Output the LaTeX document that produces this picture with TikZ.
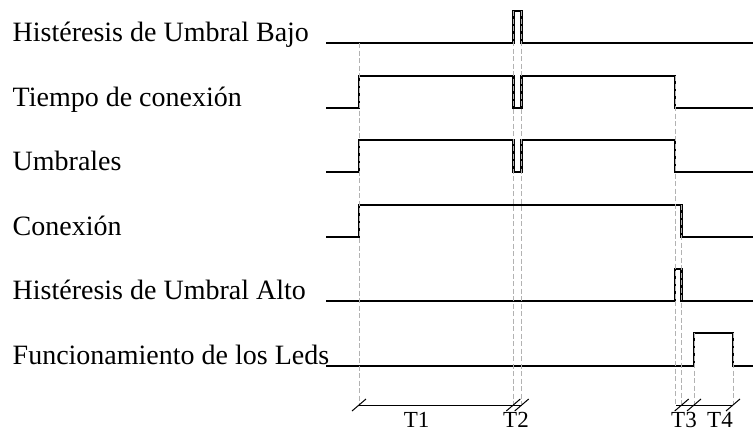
\documentclass[tikz,border=0pt]{standalone}
\usepackage{fontspec}
\setmainfont{Liberation Serif}
\begin{document}
\begin{tikzpicture}[x=1pt,y=-1pt,
  sig/.style={line width=2.8pt,line join=miter,black},
  guide/.style={gray!60,line width=1pt,dash pattern=on 5pt off 2.5pt},
  dim/.style={black,line width=1pt},
  tick/.style={black,line width=1pt},
  lbl/.style={anchor=base west,inner sep=0pt,font=\fontsize{28}{31}\selectfont},
  tlbl/.style={anchor=base,inner sep=0pt,font=\fontsize{23}{25}\selectfont}]
\useasboundingbox (0,0) rectangle (753,434);
% labels
\node[lbl] (l1) at (12.5,41.7) {Histéresis de Umbral Bajo};
\node[lbl] (l2) at (12.5,106.7) {Tiempo de conexión};
\node[lbl] (l3) at (12.5,170.7) {Umbrales};
\node[lbl] (l4) at (12.5,235.2) {Conexión};
\node[lbl] (l5) at (12.5,299.7) {Histéresis de Umbral Alto};
\node[lbl] (l6) at (12.5,364.5) {Funcionamiento de los Leds};
% signals
\draw[sig] (326,43) -- (513.3,43) -- (513.3,11) -- (521.7,11) -- (521.7,43) -- (753,43);
\draw[sig] (326,108) -- (359,108) -- (359,76) -- (513.3,76) -- (513.3,108) -- (521.7,108) -- (521.7,76) -- (675,76) -- (675,108) -- (753,108);
\draw[sig] (326,172) -- (359,172) -- (359,140) -- (513.3,140) -- (513.3,172) -- (521.7,172) -- (521.7,140) -- (675,140) -- (675,172) -- (753,172);
\draw[sig] (326,237) -- (359,237) -- (359,205) -- (681.7,205) -- (681.7,237) -- (753,237);
\draw[sig] (326,301) -- (675,301) -- (675,269) -- (681.7,269) -- (681.7,301) -- (753,301);
\draw[sig] (326,366) -- (694,366) -- (694,333) -- (733,333) -- (733,366) -- (753,366);
% guide lines
\draw[guide] (359,43) -- (359,404);
\draw[guide] (513.3,11) -- (513.3,404);
\draw[guide] (521.7,11) -- (521.7,404);
\draw[guide] (675,76) -- (675,404);
\draw[guide] (681.7,205) -- (681.7,404);
\draw[guide] (694,333) -- (694,404);
\draw[guide] (733,333) -- (733,404);
% dimension lines
\coordinate (d0) at (359,405);
\coordinate (d1) at (513.3,405);
\coordinate (d2) at (521.7,405);
\coordinate (d3) at (676,405);
\coordinate (d4) at (681.7,405);
\coordinate (d5) at (694,405);
\coordinate (d6) at (733,405);
\draw[dim] (d0) -- (d2);
\draw[dim] (d3) -- (d6);
\foreach \c in {d0,d1,d2,d4,d5,d6}
  \draw[tick] ([shift={(-7,6)}]\c) -- ([shift={(7,-6)}]\c);
\node[tlbl] (t1) at (416.7,427) {T1};
\node[tlbl] (t2) at (516,427) {T2};
\node[tlbl] (t3) at (684,427) {T3};
\node[tlbl] (t4) at (720,427) {T4};
\end{tikzpicture}
\end{document}
